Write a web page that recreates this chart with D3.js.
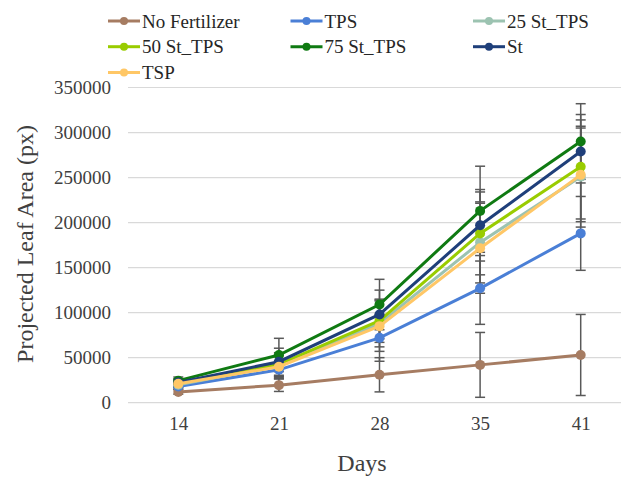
<!DOCTYPE html>
<html>
<head>
<meta charset="utf-8">
<script src="https://cdn.jsdelivr.net/npm/d3@7"></script>
<style>
  body { margin: 0; background: #fff; }
  svg text { font-family: "Liberation Serif", "DejaVu Serif", serif !important; }
</style>
</head>
<body>
<div id="chart"></div>
<script>
// categories (days after planting)
const days = ["14", "21", "28", "35", "41"];
const yTicks = [0, 50000, 100000, 150000, 200000, 250000, 300000, 350000];

// series means
const noFertilizer = [12000, 19500, 31000, 42000, 53000];
const tps          = [18000, 36500, 72000, 127000, 188000];
const st25         = [20000, 41000, 88000, 178000, 251000];
const st50         = [22000, 42500, 91000, 188000, 262000];
const st75         = [24500, 53000, 109000, 213000, 290000];
const st           = [22500, 45500, 98000, 197000, 279000];
const tsp          = [21000, 40000, 85000, 171500, 253000];

// error bar half widths
const errNoFertilizer = [2500, 7000, 19000, 36000, 45000];
const errTps          = [3000, 10000, 26000, 40000, 41000];
const errSt25         = [3500, 12000, 26000, 45000, 56000];
const errSt50         = [4000, 13000, 24000, 46000, 58000];
const errSt75         = [4000, 18500, 28000, 49600, 42000];
const errSt           = [4000, 15000, 27000, 39700, 35000];
const errTsp          = [4000, 12000, 28000, 50000, 52000];

const series = [
  {name: "No Fertilizer", values: noFertilizer, err: errNoFertilizer, color: "#a67c62"},
  {name: "TPS",           values: tps,          err: errTps,          color: "#4a7fd6"},
  {name: "25 St_TPS",     values: st25,         err: errSt25,         color: "#9cc3b1"},
  {name: "50 St_TPS",     values: st50,         err: errSt50,         color: "#99cc00"},
  {name: "75 St_TPS",     values: st75,         err: errSt75,         color: "#0f7a12"},
  {name: "St",            values: st,           err: errSt,           color: "#1f3f7a"},
  {name: "TSP",           values: tsp,          err: errTsp,          color: "#ffc766"}
];

const width = 621, height = 477;
const serif = "'Liberation Serif', 'DejaVu Serif', serif";

const svg = d3.select("#chart")
  .append("svg")
    .attr("width", width)
    .attr("height", height)
    .attr("font-family", serif);

const x = d3.scalePoint()
  .domain(days)
  .range([128, 631])
  .padding(0.5);

const y = d3.scaleLinear()
  .domain([0, 350000])
  .range([402.7, 87.5]);

// gridlines
svg.append("g")
  .selectAll("line")
  .data(yTicks)
  .join("line")
    .attr("x1", 128)
    .attr("x2", 631)
    .attr("y1", d => y(d))
    .attr("y2", d => y(d))
    .attr("stroke", "#d9d9d9")
    .attr("stroke-width", 1.2);

// y axis labels
const yAxis = svg.append("g")
  .attr("transform", "translate(121,0)")
  .call(d3.axisLeft(y).tickValues(yTicks).tickFormat(d3.format("d")).tickSize(0).tickPadding(10));
yAxis.attr("font-family", serif).attr("font-size", 19);
yAxis.select(".domain").remove();
yAxis.selectAll("text").attr("fill", "#404040");

// x axis labels
const xAxis = svg.append("g")
  .attr("transform", "translate(0,402.7)")
  .call(d3.axisBottom(x).tickSize(0).tickPadding(14));
xAxis.attr("font-family", serif).attr("font-size", 19);
xAxis.select(".domain").remove();
xAxis.selectAll("text").attr("fill", "#404040");

// axis titles
svg.append("text")
  .attr("x", 362)
  .attr("y", 471)
  .attr("text-anchor", "middle")
  .attr("font-size", 24)
  .attr("fill", "#404040")
  .text("Days");

svg.append("text")
  .attr("transform", "translate(33,244) rotate(-90)")
  .attr("text-anchor", "middle")
  .attr("font-size", 24)
  .attr("fill", "#404040")
  .text("Projected Leaf Area (px)");

// error bars
const errG = svg.append("g");
series.forEach(function(s) {
  s.values.forEach(function(v, i) {
    const cx = x(days[i]);
    const top = y(v + s.err[i]), bot = y(v - s.err[i]);
    errG.append("line")
      .attr("x1", cx).attr("x2", cx)
      .attr("y1", top).attr("y2", bot)
      .attr("stroke", "#595959").attr("stroke-width", 1.5);
    [top, bot].forEach(function(cy) {
      errG.append("line")
        .attr("x1", cx - 5).attr("x2", cx + 5)
        .attr("y1", cy).attr("y2", cy)
        .attr("stroke", "#595959").attr("stroke-width", 1.5);
    });
  });
});

// lines and markers
const line = d3.line()
  .x((d, i) => x(days[i]))
  .y(d => y(d));

series.forEach(function(s) {
  const g = svg.append("g");
  g.append("path")
    .datum(s.values)
    .attr("d", line)
    .attr("fill", "none")
    .attr("stroke", s.color)
    .attr("stroke-width", 3);
  g.selectAll("circle")
    .data(s.values)
    .join("circle")
      .attr("cx", (d, i) => x(days[i]))
      .attr("cy", d => y(d))
      .attr("r", 5)
      .attr("fill", s.color);
});

// legend
const legendCols = [108, 290.5, 473];
const legendRows = [21, 46.7, 72.5];
const legend = svg.append("g");
series.forEach(function(s, i) {
  const lx = legendCols[i % 3], ly = legendRows[Math.floor(i / 3)];
  const item = legend.append("g").attr("transform", `translate(${lx},${ly})`);
  item.append("line")
    .attr("x1", 0).attr("x2", 32)
    .attr("stroke", s.color).attr("stroke-width", 3);
  item.append("circle")
    .attr("cx", 16).attr("r", 4).attr("fill", s.color);
  item.append("text")
    .attr("x", 34)
    .attr("dy", "0.35em")
    .attr("font-size", 19)
    .attr("fill", "#262626")
    .text(s.name);
});
</script>
</body>
</html>
